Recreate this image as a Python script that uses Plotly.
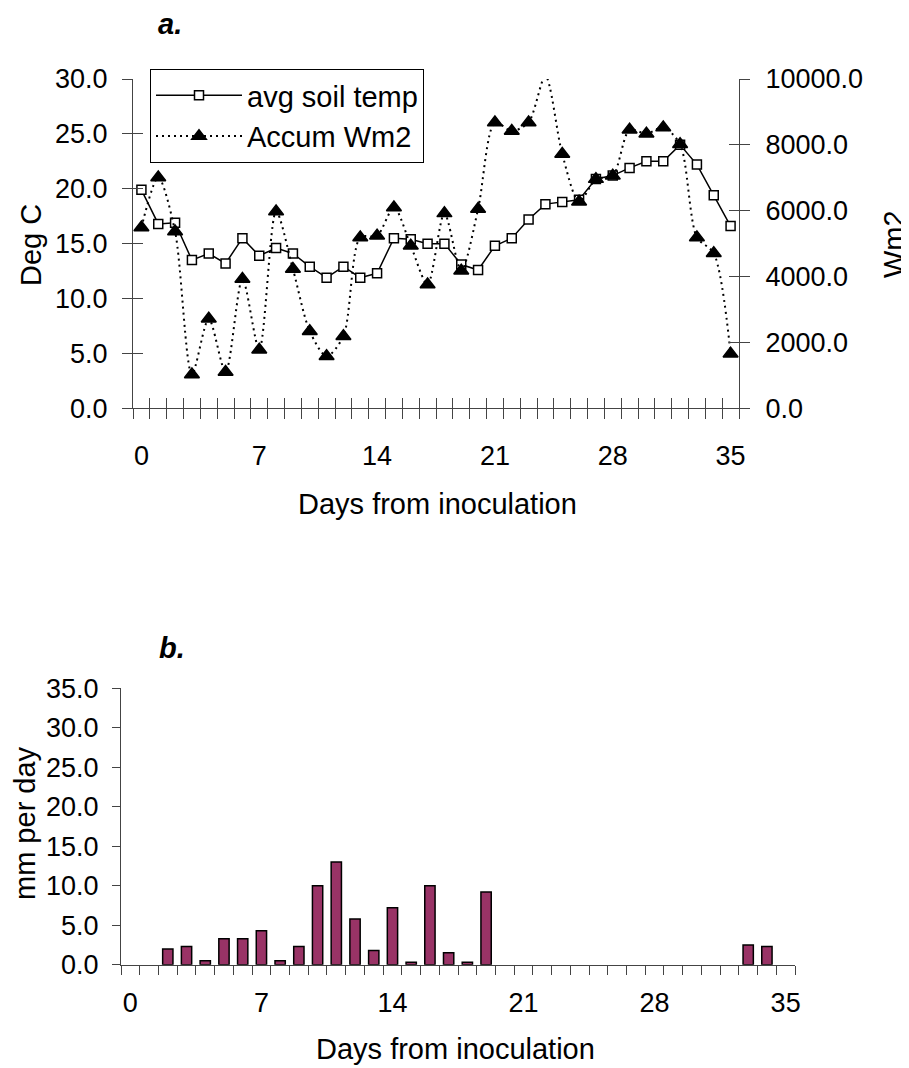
import plotly.graph_objects as go

# the page body has an 8px margin, so the figure is placed 8px in from the window edge
OFF = 8
W, H = 909 - OFF, 1068 - OFF

days = list(range(36))
soil_temp = [19.9, 16.8, 16.9, 13.5, 14.1, 13.2, 15.5, 13.9, 14.6, 14.1,
             12.9, 11.9, 12.9, 11.9, 12.3, 15.5, 15.4, 15.0, 15.0, 13.1,
             12.6, 14.8, 15.5, 17.2, 18.6, 18.8, 19.0, 20.9, 21.2, 21.9,
             22.5, 22.5, 24.0, 22.2, 19.4, 16.6]
accum_wm2 = [5490, 7010, 5370, 1030, 2720, 1100, 3930, 1780, 5980, 4230,
             2340, 1580, 2190, 5190, 5240, 6100, 4940, 3760, 5920, 4180,
             6050, 8680, 8420, 8680, 10090, 7720, 6270, 6960, 7060, 8460,
             8340, 8530, 8020, 5190, 4710, 1660]
rain_mm = [0, 0, 2.0, 2.3, 0.5, 3.3, 3.3, 4.3, 0.5, 2.3,
           10.0, 13.0, 5.8, 1.8, 7.2, 0.3, 10.0, 1.5, 0.3, 9.2,
           0, 0, 0, 0, 0, 0, 0, 0, 0, 0,
           0, 0, 0, 2.5, 2.3, 0]
label_days = [0, 7, 14, 21, 28, 35]
temp_ticks = [0, 5, 10, 15, 20, 25, 30]
wm2_ticks = [0, 2000, 4000, 6000, 8000, 10000]
rain_ticks = [0, 5, 10, 15, 20, 25, 30, 35]

WM2_MAX = 10000
bounds = [d - 0.5 for d in range(37)]
tri_sizes = [13 if v <= WM2_MAX else 0 for v in accum_wm2]
bar_lines = [1.5 if v > 0 else 0 for v in rain_mm]

FONT = "Liberation Sans, Arial, sans-serif"
FS = 27      # tick labels
FT = 29      # titles / legend
AX = "#444444"


def px_x(p):
    return (p - OFF) / W


def px_y(p):
    return 1 - (p - OFF) / H


fig = go.Figure()
fig.add_trace(go.Scatter(
    x=days, y=soil_temp, name="avg soil temp", mode="lines+markers",
    line=dict(color="black", width=1.5),
    marker=dict(symbol="square", size=9, color="white",
                line=dict(color="black", width=1.5)),
    xaxis="x", yaxis="y"))
fig.add_trace(go.Scatter(
    x=days, y=accum_wm2, name="Accum Wm2", mode="lines+markers",
    line=dict(color="black", width=2, dash="2px,4px", shape="spline", smoothing=0.8),
    marker=dict(symbol="triangle-up", size=tri_sizes, color="black", opacity=1,
                line=dict(color="black", width=1.5)),
    cliponaxis=False,
    xaxis="x", yaxis="y2"))
fig.add_trace(go.Bar(
    x=days, y=rain_mm, width=0.55, showlegend=False,
    marker=dict(color="#993366", line=dict(color="black", width=bar_lines)),
    xaxis="x2", yaxis="y5"))

# invisible helper traces so the overlay tick axes (crossing tick marks) are drawn
for xa, ya, yv in [("x3", "y", soil_temp), ("x4", "y", soil_temp),
                   ("x", "y3", soil_temp), ("x", "y4", accum_wm2),
                   ("x5", "y5", rain_mm)]:
    fig.add_trace(go.Scatter(x=days, y=yv, mode="markers",
                             marker=dict(opacity=0, size=1), hoverinfo="skip",
                             showlegend=False, xaxis=xa, yaxis=ya))

top_dom_x = [px_x(133), px_x(739)]
top_dom_y = [px_y(408.3), px_y(79)]
bot_dom_x = [px_x(121), px_x(795)]
bot_dom_y = [px_y(964.7), px_y(688.3)]

tickfont = dict(family=FONT, size=FS, color="black")
base = dict(showgrid=False, zeroline=False, automargin=False, tickfont=tickfont)
tickonly = dict(showgrid=False, zeroline=False, automargin=False,
                showticklabels=False, showline=False, tickcolor=AX, tickwidth=1)

fig.update_layout(
    template="none",
    width=W, height=H, margin=dict(l=0, r=0, t=0, b=0, autoexpand=False),
    paper_bgcolor="white", plot_bgcolor="rgba(0,0,0,0)",
    font=dict(family=FONT, size=FS, color="black"),
    showlegend=True,
    # ---- top chart
    xaxis=dict(domain=top_dom_x, anchor="y", range=[-0.5, 35.5],
               tickmode="array", tickvals=label_days, ticks="",
               showline=True, linecolor=AX, linewidth=1, ticklabelstandoff=23,
               **base),
    xaxis3=dict(overlaying="x", anchor="y", range=[-0.5, 35.5],
                tickmode="array", tickvals=bounds, ticks="outside", ticklen=10,
                **tickonly),
    xaxis4=dict(overlaying="x", anchor="y", range=[-0.5, 35.5],
                tickmode="array", tickvals=bounds, ticks="inside", ticklen=10,
                **tickonly),
    yaxis=dict(domain=top_dom_y, anchor="x", range=[0, 30], tickmode="array",
               tickvals=temp_ticks, tickformat=".1f", ticks="outside", ticklen=10,
               tickcolor=AX, showline=True, linecolor=AX, linewidth=1,
               ticklabelstandoff=9, **base),
    yaxis3=dict(overlaying="y", anchor="x", side="left", range=[0, 30],
                tickmode="array", tickvals=temp_ticks, ticks="inside", ticklen=10,
                **tickonly),
    yaxis2=dict(overlaying="y", anchor="x", side="right", range=[0, WM2_MAX],
                tickmode="array", tickvals=wm2_ticks, tickformat=".1f",
                ticks="outside", ticklen=10, tickcolor=AX, showline=True,
                linecolor=AX, linewidth=1, ticklabelstandoff=10, **base),
    yaxis4=dict(overlaying="y", anchor="x", side="right", range=[0, WM2_MAX],
                tickmode="array", tickvals=wm2_ticks, ticks="inside", ticklen=10,
                **tickonly),
    # ---- bottom chart
    xaxis2=dict(domain=bot_dom_x, anchor="y5", range=[-0.5, 35.5],
                tickmode="array", tickvals=label_days, ticks="",
                showline=True, linecolor=AX, linewidth=1, ticklabelstandoff=14,
                **base),
    xaxis5=dict(overlaying="x2", anchor="y5", range=[-0.5, 35.5],
                tickmode="array", tickvals=bounds, ticks="outside", ticklen=9,
                **tickonly),
    yaxis5=dict(domain=bot_dom_y, anchor="x2", range=[0, 35], tickmode="array",
                tickvals=rain_ticks, tickformat=".1f", ticks="outside", ticklen=8,
                tickcolor=AX, showline=True, linecolor=AX, linewidth=1,
                ticklabelstandoff=8, **base),
    legend=dict(x=px_x(150), y=px_y(69), xanchor="left", yanchor="top",
                bgcolor="white", bordercolor="black", borderwidth=1,
                font=dict(family=FONT, size=FT, color="black"), itemwidth=86,
                tracegroupgap=0),
)

ann = [
    dict(text="<b><i>a.</i></b>", x=px_x(170), y=px_y(24)),
    dict(text="<b><i>b.</i></b>", x=px_x(172), y=px_y(648)),
    dict(text="Deg C", x=px_x(31), y=px_y(245), textangle=-90),
    dict(text="Wm2", x=px_x(894), y=px_y(244), textangle=-90),
    dict(text="Days from inoculation", x=px_x(437), y=px_y(504)),
    dict(text="mm per day", x=px_x(25), y=px_y(823), textangle=-90),
    dict(text="Days from inoculation", x=px_x(455), y=px_y(1049)),
]
for a in ann:
    fig.add_annotation(xref="paper", yref="paper", showarrow=False,
                       xanchor="center", yanchor="middle", borderpad=0,
                       font=dict(family=FONT, size=FT, color="black"), **a)

fig.write_html("out.html")
